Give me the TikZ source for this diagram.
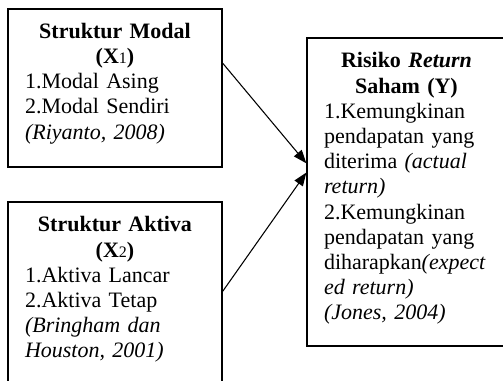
\documentclass[tikz,border=0pt]{standalone}
\usepackage{fontspec}
\setmainfont{Liberation Serif}
\usetikzlibrary{positioning,arrows.meta}
\tikzset{
  >={Triangle[length=10pt,width=7.5pt]},
  varbox/.style ={draw, line width=1pt, inner sep=0pt},
  vartext/.style={inner sep=0pt, align=left,
                  font=\fontsize{16.5}{18.9}\selectfont},
}
\newcommand{\smallidx}[1]{{\fontsize{12}{12}\selectfont\mdseries #1}}

\begin{document}
\begin{tikzpicture}[x=0.75pt, y=-0.75pt,
  link/.style={->, line width=0.8pt}
]
\useasboundingbox (0,0) rectangle (503,380);
\clip (0,0) rectangle (503,380);

%--- Boxes (sizes in pt, centres in px) ---
\node[varbox, minimum width=160.5pt, minimum height=118.5pt] (modal)  at (115,88) {};
\node[varbox, minimum width=160.5pt, minimum height=142.5pt] (aktiva) at (115,297) {};
\node[varbox, minimum width=149.25pt, minimum height=231pt]  (risk)   at (406.5,192) {};

%--- Texts inside the boxes ---
\node[vartext, text width=135pt, below=10.8pt of modal.north] (modaltext) {%
  {\centering\bfseries Struktur Modal\\(X\smallidx{1})\par}
  1.Modal Asing\\
  2.Modal Sendiri\\
  \textit{(Riyanto, 2008)}};

\node[vartext, text width=135pt, below=11.2pt of aktiva.north] (aktivatext) {%
  {\centering\bfseries Struktur Aktiva\\(X\smallidx{2})\par}
  1.Aktiva Lancar\\
  2.Aktiva Tetap\\
  \textit{(Bringham dan}\\
  \textit{Houston, 2001)}};

\node[vartext, text width=123.75pt, below=11.2pt of risk.north] (risktext) {%
  {\centering\bfseries Risiko \textit{Return}\\Saham (Y)\par}
  1.Kemungkinan\\
  pendapatan yang\\
  diterima \textit{(actual}\\
  \textit{return)}\\
  2.Kemungkinan\\
  pendapatan yang\\
  diharapkan\textit{(expect}\\
  \textit{ed return)}\\
  \textit{(Jones, 2004)}};

%--- Influence arrows ---
\draw[link] (modal.13.7) -- (risk.164.3);
\draw[link] (aktiva.3.7) -- (risk.169.2);

\end{tikzpicture}
\end{document}
